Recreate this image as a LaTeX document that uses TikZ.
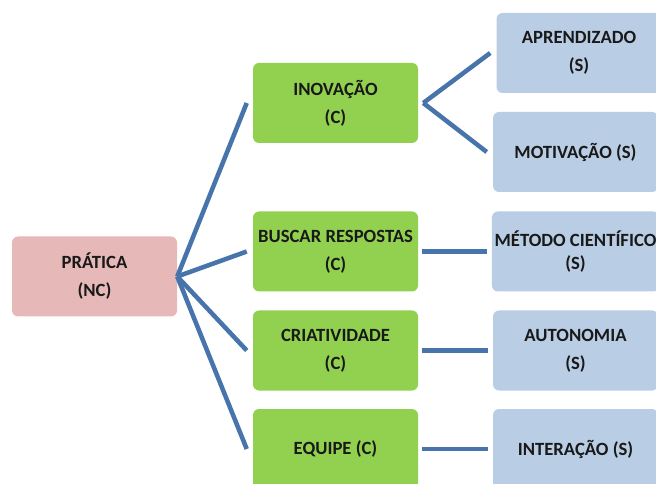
\documentclass[tikz,border=0pt]{standalone}
\usepackage{fontspec}
\setmainfont{Carlito}
\usepackage{tikz}
\usetikzlibrary{positioning,calc}
\definecolor{rootpink}{RGB}{230,185,184}
\definecolor{catgreen}{RGB}{146,208,80}
\definecolor{subblue}{RGB}{185,205,229}
\definecolor{linkblue}{RGB}{72,116,172}
\tikzset{
  catbox/.style={draw=none,rounded corners=4.5pt,minimum width=123.75pt,minimum height=60pt,
    align=center,inner sep=2pt,font=\fontsize{14}{21}\selectfont\bfseries,text=black!90,fill=catgreen},
  rootbox/.style={catbox,fill=rootpink},
  subbox/.style={catbox,fill=subblue},
  link/.style={line width=3.4pt,draw=linkblue}
}
\begin{document}
\begin{tikzpicture}[x=0.75pt,y=-0.75pt]
  \useasboundingbox (0,0) rectangle (656,484);
  \clip (0,0) rectangle (656,484);
  \node[rootbox] (pratica) at (94.5,276.5) {PRÁTICA\\(NC)};
  \node[catbox] (inov) at (335.5,103) {INOVAÇÃO\\(C)};
  \node[catbox] (buscar) at (335.5,251.5) {BUSCAR RESPOSTAS\\(C)};
  \node[catbox] (criat) at (335.5,350.5) {CRIATIVIDADE\\(C)};
  \node[catbox] (equipe) at (335.5,449) {EQUIPE (C)};
  \node[subbox] (aprend) at (579,53) {APRENDIZADO\\(S)};
  \node[subbox] (motiv) at (575.5,152) {MOTIVAÇÃO (S)};
  \node[subbox] (metodo) at (575.5,251.5) {MÉTODO CIENTÍFICO\\[-4pt](S)};
  \node[subbox] (auton) at (575.5,350.5) {AUTONOMIA\\(S)};
  \node[subbox] (inter) at (575.5,449) {INTERAÇÃO (S)};
  \foreach \c in {inov,buscar,criat,equipe}
    \draw[link] (pratica.east) -- ([xshift=-4.5pt]\c.west);
  \draw[link] ([xshift=3.75pt]inov.east) -- ([xshift=-4.5pt]aprend.west);
  \draw[link] ([xshift=3.75pt]inov.east) -- ([xshift=-4.5pt]motiv.west);
  \draw[link] ([xshift=2.5pt]buscar.east) -- ([xshift=-3.75pt]metodo.west);
  \draw[link] ([xshift=2.5pt]criat.east) -- ([xshift=-3.75pt]auton.west);
  \draw[link] ([xshift=2.5pt]equipe.east) -- ([xshift=-3.75pt]inter.west);
\end{tikzpicture}
\end{document}
